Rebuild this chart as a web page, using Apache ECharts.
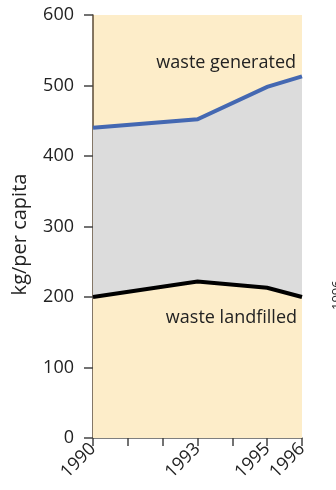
<!DOCTYPE html>
<html>
<head>
<meta charset="utf-8">
<script src="https://cdn.jsdelivr.net/npm/echarts@6/dist/echarts.min.js"></script>
<style>
  html, body { margin: 0; padding: 0; background: #ffffff; }
  #chart { width: 336px; height: 490px; }
</style>
</head>
<body>
<div id="chart"></div>
<script>
// Municipal waste per capita, kg
const years = [1990, 1993, 1995, 1996];
const wasteGenerated = [440, 452, 498, 513];
const wasteLandfilled = [200, 222, 213, 200];
const labelledYears = [1990, 1993, 1995, 1996];
const yTicks = [0, 100, 200, 300, 400, 500, 600];

const FONT = '"Open Sans", "DejaVu Sans", sans-serif';
const PLOT_BG = '#fdedc9';

const pairs = (vals) => years.map((y, i) => [y, vals[i]]);

const chart = echarts.init(document.getElementById('chart'), null, { renderer: 'canvas' });

chart.setOption({
  animation: false,
  backgroundColor: '#ffffff',
  textStyle: { fontFamily: FONT },
  grid: {
    left: 93, right: 34, top: 15, bottom: 52,
    show: true, backgroundColor: PLOT_BG, borderWidth: 0
  },
  xAxis: {
    type: 'value',
    min: 1990, max: 1996, interval: 1,
    axisLine: { show: true, onZero: false, lineStyle: { color: '#555555', width: 1.5 } },
    axisTick: { show: true, length: 8, lineStyle: { color: '#444444', width: 1.5 } },
    splitLine: { show: false },
    axisLabel: {
      rotate: 45, margin: 8,
      color: '#222222', fontSize: 18, fontFamily: FONT,
      formatter: (v) => labelledYears.includes(v) ? String(v) : ''
    }
  },
  yAxis: {
    type: 'value',
    min: yTicks[0], max: yTicks[yTicks.length - 1], interval: 100,
    name: 'kg/per capita',
    nameLocation: 'middle',
    nameGap: 63,
    nameRotate: 90,
    nameTextStyle: { color: '#222222', fontSize: 20, fontFamily: FONT, padding: [0, 16, 0, 0] },
    axisLine: { show: true, lineStyle: { color: '#5b4a35', width: 1.5 } },
    axisTick: { show: true, length: 9, lineStyle: { color: '#444444', width: 1.5 } },
    splitLine: { show: false },
    axisLabel: { color: '#222222', fontSize: 18, margin: 19, fontFamily: FONT }
  },
  series: [
    {
      // grey band: fill under the generated line...
      type: 'line', data: pairs(wasteGenerated), z: 1,
      symbol: 'none', lineStyle: { opacity: 0 },
      areaStyle: { color: '#dcdcdc', opacity: 1 }, silent: true
    },
    {
      // ...then cover below the landfilled line with the plot colour
      type: 'line', data: pairs(wasteLandfilled), z: 1,
      symbol: 'none', lineStyle: { opacity: 0 },
      areaStyle: { color: PLOT_BG, opacity: 1 }, silent: true
    },
    {
      name: 'waste generated', type: 'line', data: pairs(wasteGenerated), z: 3,
      symbol: 'none', lineStyle: { color: '#4468b2', width: 4, cap: 'butt', join: 'miter' }
    },
    {
      name: 'waste landfilled', type: 'line', data: pairs(wasteLandfilled), z: 3,
      symbol: 'none', lineStyle: { color: '#000000', width: 4, cap: 'butt', join: 'miter' }
    }
  ],
  graphic: [
    {
      type: 'text', right: 40, top: 54, z: 10,
      style: { text: 'waste generated', font: '18px ' + FONT, fill: '#222222' }
    },
    {
      type: 'text', right: 39, top: 309, z: 10,
      style: { text: 'waste landfilled', font: '18px ' + FONT, fill: '#222222' }
    },
    {
      type: 'text', x: 331, y: 310, rotation: Math.PI / 2, z: 10,
      style: { text: '1996', font: '13px ' + FONT, fill: '#222222', verticalAlign: 'top' }
    }
  ]
});
</script>
</body>
</html>
